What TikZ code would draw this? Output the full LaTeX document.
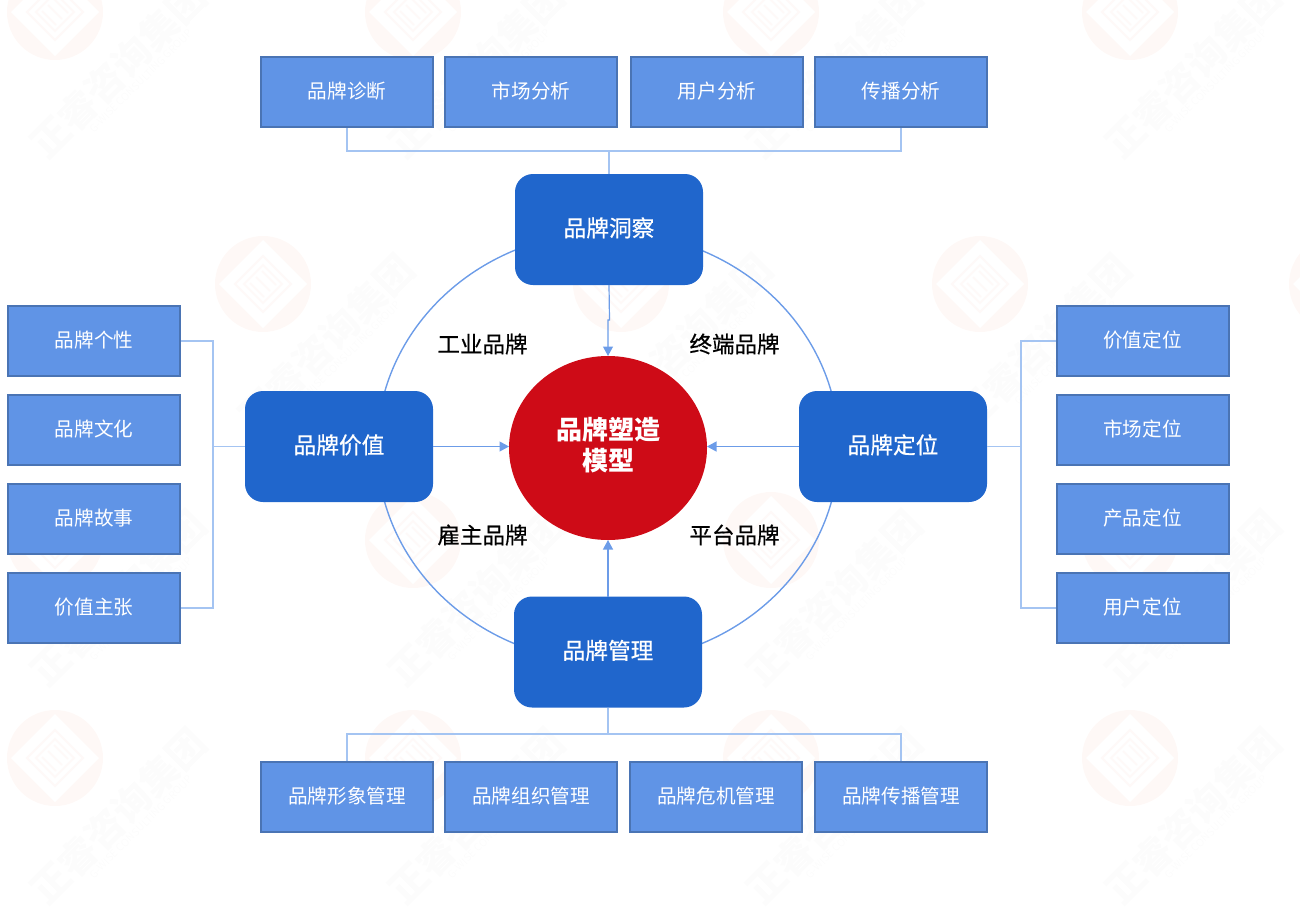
\documentclass[tikz,border=0pt]{standalone}
\usepackage{fontspec}
\setmainfont{Noto Sans CJK SC}
\newfontfamily\medfont[FakeBold=0.6]{Noto Sans CJK SC}
\usetikzlibrary{arrows.meta,calc,shapes.geometric}
\definecolor{subfill}{HTML}{6094E6}
\definecolor{subline}{HTML}{4A74B4}
\definecolor{mainfill}{HTML}{2066CC}
\definecolor{hubfill}{HTML}{CE0B17}
\definecolor{treeline}{HTML}{A4C4F2}
\definecolor{ringline}{HTML}{6C9CE8}
\definecolor{wmred}{HTML}{FEF8F6}
\definecolor{wmline}{HTML}{FEF9F8}
\definecolor{wmgray}{HTML}{FCFCFC}
\tikzset{
  subbox/.style={draw=subline,fill=subfill,line width=2pt,minimum width=172pt,minimum height=70pt,
    inner sep=0pt,outer sep=1pt,text=white,text height=17pt,text depth=3.8pt,font=\fontsize{19.6pt}{23pt}\selectfont},
  mainbox/.style={fill=mainfill,rounded corners=18pt,minimum width=188pt,minimum height=111pt,
    inner sep=0pt,outer sep=0pt,text=white,text height=20pt,text depth=6pt,font=\medfont\fontsize{22.7pt}{26pt}\selectfont},
  hubnode/.style={ellipse,fill=hubfill,minimum width=198pt,minimum height=184pt,inner sep=0pt,outer sep=0pt,
    text=white,align=center,text depth=8pt,font=\bfseries\fontsize{26pt}{31pt}\selectfont},
  typelabel/.style={inner sep=0pt,text=black,font=\medfont\fontsize{22.5pt}{26pt}\selectfont},
  treelink/.style={draw=treeline,line width=1.2pt},
  ring/.style={draw=ringline,line width=1.4pt},
  feed/.style={draw=ringline,line width=1.2pt,-{Triangle[length=9.5pt,width=10pt]}},
  wmtext/.style={rotate=45,text=wmgray,inner sep=0pt,font=\bfseries\fontsize{38pt}{40pt}\selectfont},
  wmsub/.style={rotate=45,text=wmgray,inner sep=0pt,font=\fontsize{10.5pt}{12pt}\selectfont},
}
\newcommand{\wmlogo}[2]{%
  \fill[wmred] (#1,#2) circle (48);
  \fill[white] (#1-44,#2) -- (#1,#2-44) -- (#1+44,#2) -- (#1,#2+44) -- cycle;
  \draw[wmline,line width=2pt] (#1-28,#2) -- (#1,#2-28) -- (#1+28,#2) -- (#1,#2+28) -- cycle;
  \draw[wmline,line width=1.5pt] (#1-19,#2) -- (#1,#2-19) -- (#1+19,#2) -- (#1,#2+19) -- cycle;
  \draw[wmline,line width=1.5pt] (#1-7,#2-7) -- (#1+7,#2+7) (#1-1,#2-13) -- (#1+13,#2+1) (#1-13,#2-1) -- (#1+1,#2+13);
}
\newcommand{\wmfull}[3]{%
  \wmlogo{#2}{#3}
  \node[wmtext] (wmt#1) at (#2+63,#3+58) {正睿咨询集团};
  \node[wmsub] (wms#1) at (#2+86,#3+69) {G-WISE CONSULTING GROUP};
}
\begin{document}
\begin{tikzpicture}[x=1pt,y=-1pt]
\useasboundingbox (0,0) rectangle (1300,910);
\begin{scope}
\clip (0,0) rectangle (1300,910);
\wmfull{a}{55}{12}\wmfull{b}{413}{12}\wmfull{c}{771}{12}\wmfull{d}{1130}{12}
\wmfull{e}{263}{284}\wmfull{f}{621}{284}\wmfull{g}{980}{284}\wmlogo{1337}{284}
\wmfull{h}{55}{540}\wmfull{i}{413}{540}\wmfull{j}{771}{540}\wmfull{k}{1130}{540}
\wmfull{l}{55}{758}\wmfull{m}{413}{758}\wmfull{n}{771}{758}\wmfull{o}{1130}{758}
\end{scope}

% ring behind the four main boxes
\coordinate (ringc) at (608,447);
\draw[ring] (ringc) ellipse [x radius=231,y radius=215];

% centre and main boxes
\node[hubnode] (hub) at (608,448) {品牌塑造\\模型};
\node[mainbox] (insight) at (609,229.5) {品牌洞察};
\node[mainbox] (value) at (339,446.5) {品牌价值};
\node[mainbox] (position) at (893,446.5) {品牌定位};
\node[mainbox] (manage) at (608,652) {品牌管理};

% type labels
\node[typelabel] (t1) at (482.5,344) {工业品牌};
\node[typelabel] (t2) at (734.5,344) {终端品牌};
\node[typelabel] (t3) at (482.5,535) {雇主品牌};
\node[typelabel] (t4) at (734.5,535) {平台品牌};

% top
\node[subbox] (a1) at (347,92) {品牌诊断};
\node[subbox] (a2) at (531,92) {市场分析};
\node[subbox] (a3) at (717,92) {用户分析};
\node[subbox] (a4) at (901,92) {传播分析};
% bottom
\node[subbox] (b1) at (347,797) {品牌形象管理};
\node[subbox] (b2) at (531,797) {品牌组织管理};
\node[subbox] (b3) at (716,797) {品牌危机管理};
\node[subbox] (b4) at (901,797) {品牌传播管理};
% left
\node[subbox] (l1) at (94,341) {品牌个性};
\node[subbox] (l2) at (94,430) {品牌文化};
\node[subbox] (l3) at (94,519) {品牌故事};
\node[subbox] (l4) at (94,608) {价值主张};
% right
\node[subbox] (r1) at (1142.5,341) {价值定位};
\node[subbox] (r2) at (1142.5,430) {市场定位};
\node[subbox] (r3) at (1142.5,519) {产品定位};
\node[subbox] (r4) at (1142.5,608) {用户定位};

% trees
\coordinate (topbar) at (609,151);
\coordinate (botbar) at (608,734);
\coordinate (leftbar) at (213,446.5);
\coordinate (rightbar) at (1021,446.5);
\draw[treelink] (a1.south) |- (topbar) -| (a4.south);
\draw[treelink] (topbar) -- (insight.north);
\draw[treelink] (b1.north) |- (botbar) -| (b4.north);
\draw[treelink] (botbar) -- (manage.south);
\draw[treelink] (l1.east) -| (leftbar) |- (l4.east);
\draw[treelink] (leftbar) -- (value.west);
\draw[treelink] (r1.west) -| (rightbar) |- (r4.west);
\draw[treelink] (rightbar) -- (position.east);

% arrows to hub
\coordinate (jog1) at (609.5,320);
\coordinate (jog2) at (608,320);
\draw[feed] (insight.south) -- (jog1) -- (jog2) -- (hub.north);
\draw[feed] (manage.north) -- (hub.south);
\draw[feed] (value.east) -- (value.east -| hub.west);
\draw[feed] (position.west) -- (position.west -| hub.east);
\end{tikzpicture}
\end{document}
